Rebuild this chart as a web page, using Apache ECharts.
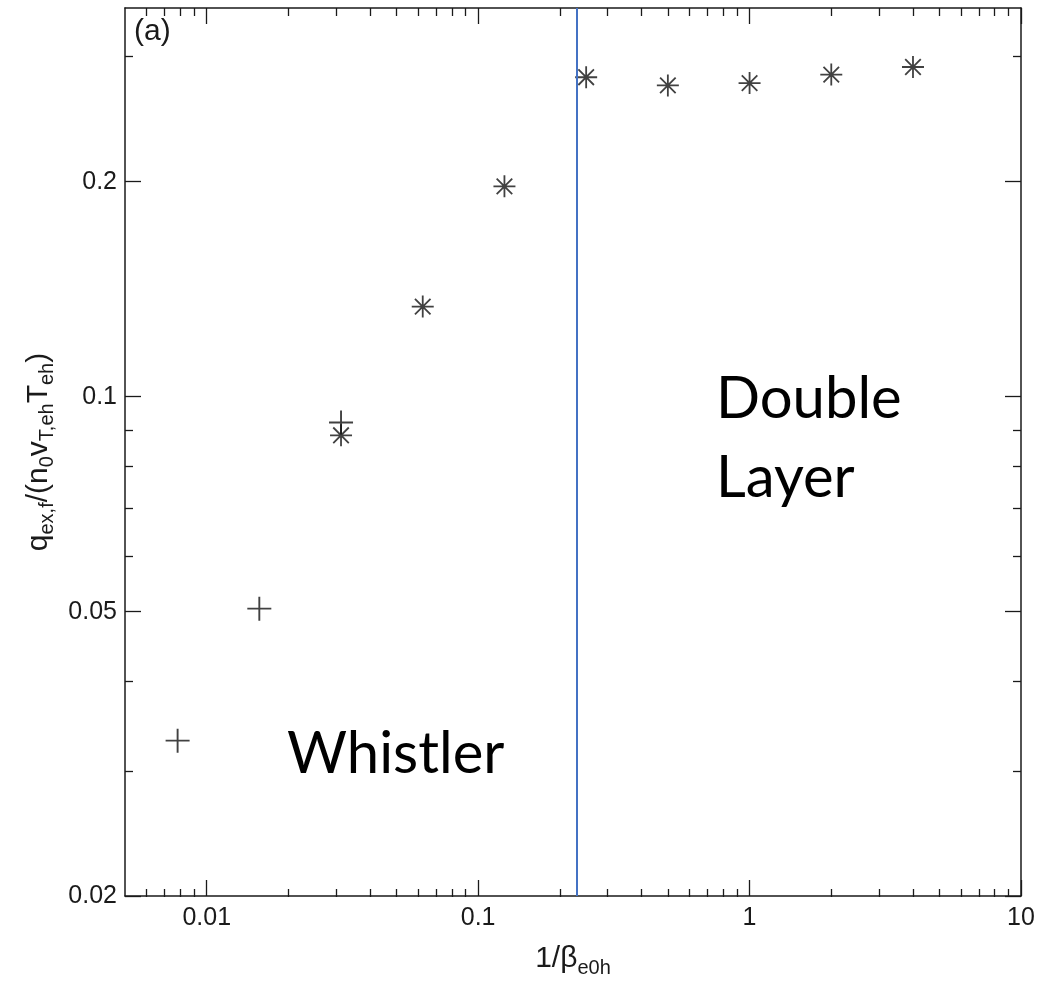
<!DOCTYPE html>
<html>
<head>
<meta charset="utf-8">
<script src="https://cdn.jsdelivr.net/npm/echarts@6/dist/echarts.min.js"></script>
<style>
html,body{margin:0;padding:0;background:#fff;}
#chart{width:1048px;height:983px;}
</style>
</head>
<body>
<div id="chart"></div>
<script>
// ---- data ----
const plusX = [0.0078125, 0.015625, 0.03125];
const plusY = [0.033, 0.0505, 0.092];
const starX = [0.03125, 0.0625, 0.125, 0.25, 0.5, 1, 2, 4];
const starY = [0.0883, 0.1337, 0.197, 0.280, 0.2727, 0.2748, 0.2824, 0.2894];
const boundaryX = 0.23;

const xMin = 0.005, xMax = 10;
const yMin = 0.02, yMax = 0.35;
const xMajorTicks = [0.01, 0.1, 1, 10];
const xTickLabels = ['0.01', '0.1', '1', '10'];
const xMinorTicks = [0.006,0.007,0.008,0.009,0.02,0.03,0.04,0.05,0.06,0.07,0.08,0.09,
                     0.2,0.3,0.4,0.5,0.6,0.7,0.8,0.9,2,3,4,5,6,7,8,9];
const yMajorTicks = [0.02, 0.05, 0.1, 0.2];
const yTickLabels = ['0.02', '0.05', '0.1', '0.2'];
const yMinorTicks = [0.03, 0.04, 0.06, 0.07, 0.08, 0.09, 0.3];

const panelLabel = '(a)';
const regionLeft = 'Whistler';
const regionRight = 'Double\nLayer';

// ---- helpers ----
function labelFor(vals, labels) {
  return function (v) {
    let best = 0, bd = Infinity;
    vals.forEach((t, i) => { const d = Math.abs(Math.log10(t) - Math.log10(v)); if (d < bd) { bd = d; best = i; } });
    return labels[best];
  };
}
const ink = '#1a1a1a';
const sans = 'Liberation Sans, Arial, sans-serif';
const tickFont = { fontFamily: sans, fontSize: 25, color: ink };
const gridRect = { left: 125, right: 27, top: 8, bottom: 86 };

function xAx(gridIndex, position, ticks, len, showLine, showLabel) {
  return {
    type: 'log', logBase: 10, gridIndex, position, min: xMin, max: xMax,
    axisLine: { show: showLine, lineStyle: { color: ink, width: 1.5 } },
    axisTick: { show: true, inside: true, length: len, customValues: ticks, lineStyle: { color: ink, width: 1.3 } },
    axisLabel: showLabel ? Object.assign({ show: true, margin: 10, customValues: ticks,
      formatter: labelFor(xMajorTicks, xTickLabels) }, tickFont) : { show: false },
    splitLine: { show: false }, minorTick: { show: false }, minorSplitLine: { show: false }
  };
}
function yAx(gridIndex, position, ticks, len, showLine, showLabel) {
  return {
    type: 'log', logBase: 10, gridIndex, position, min: yMin, max: yMax,
    axisLine: { show: showLine, lineStyle: { color: ink, width: 1.5 } },
    axisTick: { show: true, inside: true, length: len, customValues: ticks, lineStyle: { color: ink, width: 1.3 } },
    axisLabel: showLabel ? Object.assign({ show: true, margin: 8, customValues: ticks,
      formatter: labelFor(yMajorTicks, yTickLabels) }, tickFont) : { show: false },
    splitLine: { show: false }, minorTick: { show: false }, minorSplitLine: { show: false }
  };
}

const plusPath = 'path://M12,0 L12,24 M0,12 L24,12';
const starPath = 'path://M10,0 L10,20 M0,10 L20,10 M2.93,2.93 L17.07,17.07 M2.93,17.07 L17.07,2.93';

const nameRich = {
  m: { fontFamily: sans, fontSize: 30, color: ink, lineHeight: 38 },
  s: { fontFamily: sans, fontSize: 20, color: ink, lineHeight: 20, verticalAlign: 'bottom' }
};

const xAxes = [
  xAx(0, 'bottom', xMajorTicks, 16, true, true),
  xAx(0, 'top', xMajorTicks, 16, true, false),
  xAx(1, 'bottom', xMinorTicks, 8, false, false),
  xAx(1, 'top', xMinorTicks, 8, false, false)
];
xAxes[0].name = '{m|1/β}{s|e0h}';
xAxes[0].nameLocation = 'middle';
xAxes[0].nameGap = 44;
xAxes[0].nameTextStyle = { rich: nameRich };

const yAxes = [
  yAx(0, 'left', yMajorTicks, 16, true, true),
  yAx(0, 'right', yMajorTicks, 16, true, false),
  yAx(1, 'left', yMinorTicks, 8, false, false),
  yAx(1, 'right', yMinorTicks, 8, false, false)
];
yAxes[0].name = '{m|q}{s|ex,f}{m|/(n}{s|0}{m|v}{s|T,eh}{m|T}{s|eh}{m|)}';
yAxes[0].nameLocation = 'middle';
yAxes[0].nameRotate = 90;
yAxes[0].nameGap = 64;
yAxes[0].nameTextStyle = { rich: nameRich };

const option = {
  backgroundColor: '#fff',
  animation: false,
  grid: [Object.assign({}, gridRect), Object.assign({}, gridRect)],
  xAxis: xAxes,
  yAxis: yAxes,
  series: [
    {
      type: 'scatter', xAxisIndex: 0, yAxisIndex: 0,
      data: plusX.map((x, i) => [x, plusY[i]]),
      symbol: plusPath, symbolSize: 24,
      itemStyle: { color: 'none', borderColor: '#111', borderWidth: 1.9 },
      markLine: {
        silent: true, symbol: 'none', label: { show: false },
        lineStyle: { color: '#4472C4', width: 2, type: 'solid' },
        data: [{ xAxis: boundaryX }]
      },
      z: 3
    },
    {
      type: 'scatter', xAxisIndex: 0, yAxisIndex: 0,
      data: starX.map((x, i) => [x, starY[i]]),
      symbol: starPath, symbolSize: 22,
      itemStyle: { color: 'none', borderColor: '#111', borderWidth: 1.8 },
      z: 3
    }
  ],
  graphic: [
    { type: 'text', left: 134, top: 17, style: { text: panelLabel, fontFamily: sans, fontSize: 30, fill: ink } },
    { type: 'text', left: 287, top: 725, style: { text: regionLeft, fontFamily: 'Lato, Open Sans, sans-serif', fontSize: 58, fill: '#000' } },
    { type: 'text', left: 716, top: 360, style: { text: regionRight, fontFamily: 'Lato, Open Sans, sans-serif', fontSize: 58, lineHeight: 79, fill: '#000' } }
  ]
};

const chart = echarts.init(document.getElementById('chart'), null, { renderer: 'canvas' });
chart.setOption(option);
</script>
</body>
</html>
